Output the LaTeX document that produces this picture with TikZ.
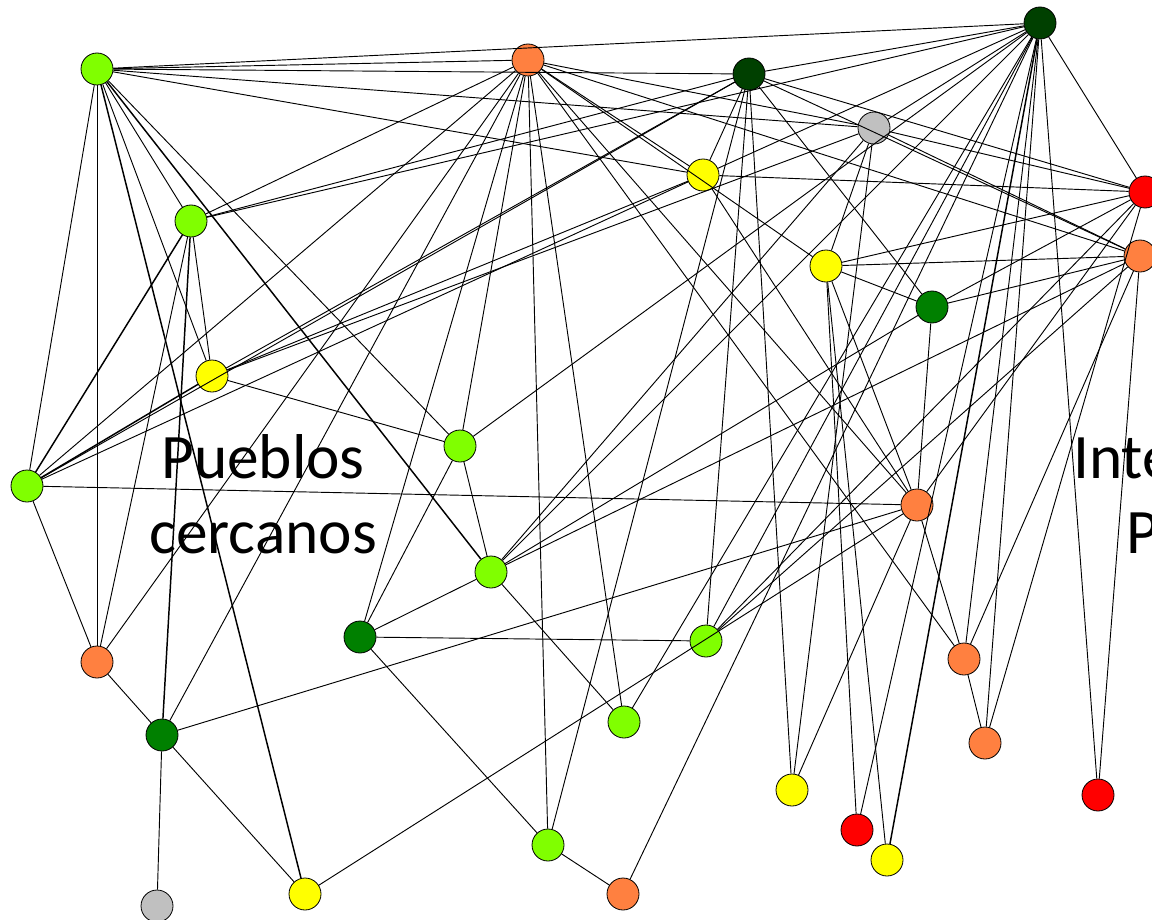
\documentclass[tikz,border=0pt]{standalone}
\usepackage{fontspec}
\setmainfont{Carlito}
\definecolor{cLime}{HTML}{80FF00}
\definecolor{cOrange}{HTML}{FF8040}
\definecolor{cDark}{HTML}{004000}
\definecolor{cGreen}{HTML}{008000}
\definecolor{cYellow}{HTML}{FFFF00}
\definecolor{cRed}{HTML}{FF0000}
\definecolor{cGray}{HTML}{C0C0C0}
\begin{document}
\begin{tikzpicture}[x=0.75pt,y=-0.75pt,
  vtx/.style={circle,draw=black,line width=0.6pt,minimum size=24pt,inner sep=0pt},
  lime/.style={vtx,fill=cLime}, orange/.style={vtx,fill=cOrange},
  dark/.style={vtx,fill=cDark}, green/.style={vtx,fill=cGreen},
  yel/.style={vtx,fill=cYellow}, red/.style={vtx,fill=cRed},
  gray/.style={vtx,fill=cGray},
  edge/.style={line width=0.7pt,black},
  dedge/.style={line width=1.1pt,black},
  big/.style={font=\fontsize{47.5}{56}\selectfont,inner sep=0pt}]
\useasboundingbox (0,0) rectangle (1152,920);
\fill[white] (0,0) rectangle (1152,920);
\clip (0,0) rectangle (1152,920);
% labels
\node[big,anchor=base] (t1) at (263,478) {Pueblos};
\node[big,anchor=base] (t2) at (263,553) {cercanos};
\node[big,anchor=base west] (t3) at (1073,478) {Inte};
\node[big,anchor=base west] (t4) at (1126,553) {P};
% nodes
\node[lime] (A) at (97,69) {};
\node[orange] (B) at (528,60) {};
\node[dark] (C) at (749,74) {};
\node[dark] (D) at (1040,23) {};
\node[gray] (E) at (874,128) {};
\node[yel] (F) at (703,175) {};
\node[lime] (G) at (191,221) {};
\node[red] (H) at (1145,192) {};
\node[orange] (I) at (1140,256) {};
\node[yel] (J) at (826,266) {};
\node[green] (K) at (932,307) {};
\node[yel] (L) at (212,376) {};
\node[lime] (M) at (460,446) {};
\node[lime] (N) at (27,486) {};
\node[orange] (O) at (917,505) {};
\node[lime] (P) at (491,572) {};
\node[green] (Q) at (360,637) {};
\node[lime] (R) at (706,641) {};
\node[orange] (S) at (97,662) {};
\node[orange] (T) at (964,659) {};
\node[lime] (U) at (624,722) {};
\node[green] (V) at (162,735) {};
\node[orange] (W) at (985,743) {};
\node[yel] (X) at (792,790) {};
\node[red] (Y) at (1098,795) {};
\node[red] (Z) at (857,830) {};
\node[lime] (AA) at (548,845) {};
\node[yel] (AB) at (887,860) {};
\node[gray] (AC) at (157,906) {};
\node[yel] (AD) at (305,894) {};
\node[orange] (AE) at (623,894) {};
% edges
\foreach \a/\b in {A/D,A/B,A/C,A/E,A/F,A/N,A/S,A/L,A/G,A/M,
  G/S,G/L,G/B,G/C,G/D,
  N/S,N/B,N/C,N/F,N/O,
  S/B,S/V,
  V/B,V/O,V/AD,V/AC,
  L/C,L/F,L/M,L/E,
  B/E,B/I,B/F,B/J,B/Q,B/M,B/AA,B/U,B/T,B/O,
  C/D,C/I,C/H,C/K,C/F,C/R,C/X,C/AA,
  D/E,D/F,D/M,D/P,D/H,D/U,D/R,D/W,D/T,D/Y,D/Z,D/AE,
  E/H,E/I,E/X,E/J,E/P,
  F/H,F/O,
  H/J,H/K,H/R,H/O,H/W,
  I/J,I/K,I/P,I/T,I/Y,I/R,
  J/K,J/O,J/Z,J/AB,
  K/O,K/P,
  O/X,O/T,AD/O,
  P/M,P/Q,P/U,
  Q/R,Q/AA,Q/M,
  AA/AE,T/W}
  \draw[edge] (\a) -- (\b);
\foreach \a/\b in {N/G,A/P,G/V,A/AD,N/L,D/AB}
  \draw[dedge] (\a) -- (\b);
\end{tikzpicture}
\end{document}
